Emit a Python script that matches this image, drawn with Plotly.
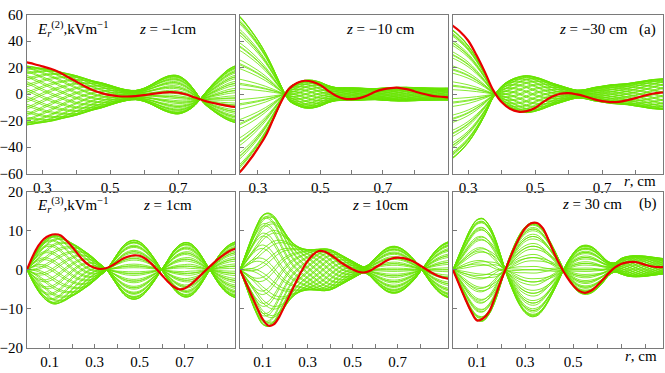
import numpy as np
import plotly.graph_objects as go
from plotly.subplots import make_subplots

# radial grids (cm)
R_TOP = [0.225, 0.25, 0.275, 0.3, 0.325, 0.35, 0.375, 0.4, 0.425, 0.45, 0.475, 0.5, 0.525, 0.55,
         0.575, 0.6, 0.625, 0.65, 0.675, 0.7, 0.725, 0.75, 0.775, 0.8, 0.825, 0.85, 0.875, 0.9, 0.925]
R_BOT = [0.0, 0.025, 0.05, 0.075, 0.1, 0.125, 0.15, 0.175, 0.2, 0.225, 0.25, 0.275, 0.3, 0.325,
         0.35, 0.375, 0.4, 0.425, 0.45, 0.475, 0.5, 0.525, 0.55, 0.575, 0.6, 0.625, 0.65, 0.675,
         0.7, 0.725, 0.75, 0.775, 0.8, 0.825, 0.85, 0.875, 0.9, 0.925]

# phase offsets of the green snapshots (deg), two per band
THETA = [0, 4, 15, 19, 30, 34, 45, 49, 60, 64, 75, 79, 90, 94, 105, 109, 120, 124, 135, 139,
         150, 154, 165, 169, 180, 184, 195, 199, 210, 214, 225, 229, 240, 244, 255, 259, 270, 274,
         285, 289, 300, 304, 315, 319, 330, 334, 345, 349]

# z = -1 cm
RED1 = [26.0, 24.3, 22.8, 21.0, 19.2, 16.5, 13.0, 9.5, 6.0, 3.0, 0.8, -0.8, -1.6, -1.8, -1.5,
        -0.8, 0.2, 1.0, 1.5, 1.2, -0.3, -2.6, -4.8, -6.5, -7.8, -9.0, -9.8, -10.3, -10.5]
AMP1 = [23, 22.5, 21.5, 20.5, 19.5, 18, 16.5, 15, 13, 11, 9.5, 7.5, 5.5, 4, 3.5,
        5, 8, 11.5, 14, 14.5, 11.5, 5.5, -3, -9.5, -15, -19.5, -22, -23, -23]
MID1 = [-1, -1, -1, -1, -1, -1, -1, -1, -1, -1, -0.9, -0.8, -0.8, -0.8, -0.7,
        -0.5, -0.2, 0, 0, -0.5, -1.5, -3, -3.6, -2.5, -1.5, -0.5, 0, 0, 0]
PH1 = [0, -5, -12, -20, -28, -36, -45, -54, -63, -72, -81, -90, -98, -105, -110,
       -113, -115, -116, -117, -117, -117, -117, -117, -117, -117, -117, -117, -117, -117]

# z = -10 cm
RED2 = [-63, -57, -49.5, -41, -31.5, -18.5, -5.5, 4, 8.5, 10.1, 9.3, 6.8, 2.5, -1.3, -3.4,
        -3.8, -3.0, -1.0, 1.8, 3.6, 4.6, 4.8, 3.8, 2.2, 0.5, -0.9, -1.8, -2.3, -2.5]
AMP2 = [63, 57, 49.5, 41, 31, 19, 6, -5, -8.5, -10.5, -10.5, -9, -6.5, -5, -4.8,
        -4.8, -4.6, -4.3, -4.2, -4.6, -5, -5.2, -5.2, -5, -4.8, -4.6, -4.5, -4.5, -4.5]
PH2 = [4, 4, 4, 4, 4, 4, 4, 2, -6, -16, -26, -36, -46, -56, -66,
       -76, -86, -96, -106, -116, -126, -136, -146, -156, -166, -176, -186, -196, -206]

# z = -30 cm
RED3 = [57, 52.5, 47.5, 40.5, 29.5, 16.8, 3, -6, -11, -13.2, -12.8, -10.5, -5.8, -2, 0.3,
        0.8, -0.2, -1.8, -3.8, -5.3, -6, -5.8, -4.6, -3, -1.2, 0.3, 1.1, 1.5, 1.6]
AMP3 = [54, 49.5, 44, 37, 27.5, 16, 2.5, -6, -10.5, -13, -14, -13, -11, -8.5, -6.5,
        -4.5, -3, -3.5, -5, -6, -7, -7.5, -8, -9, -10, -11, -11.5, -12, -12]
PH3 = [4, 4, 4, 4, 4, 4, 4, 2, -6, -15, -25, -35, -45, -55, -65,
       -75, -84, -93, -102, -111, -120, -129, -138, -147, -156, -165, -174, -183, -192]

# z = 1 cm
RED4 = [0, 3.4, 6.1, 7.9, 8.8, 9.1, 8.8, 7.5, 5.9, 4.1, 2.4, 1.2, 0.5, 0.2, 0.4, 1.0, 1.9, 2.8, 3.4,
        3.7, 3.6, 2.9, 1.7, 0.2, -1.4, -3.0, -4.3, -5.0, -4.8, -3.9, -2.6, -1.2, 0.2, 1.5, 2.8, 3.9, 4.8, 5.4]
AMP4 = [0, 3, 5.5, 7.3, 8.4, 8.8, 8.4, 7.7, 6.8, 6.0, 5.0, 4.0, 2.8, 1.5, 0.3, -1.8, -4, -6, -7.2,
        -7.6, -7.2, -6, -4.2, -2.1, 0.2, 2.5, 4.8, 6.3, 7.0, 6.8, 5.6, 3.6, 1.2, -1.2, -3.5, -5.3, -6.5, -7.2]
PH4 = [0, -2, -5, -9, -14, -20, -27, -35, -44, -54, -64, -74, -83, -90, -95, -98, -100, -101, -101,
       -101, -101, -101, -101, -101, -101, -101, -101, -101, -101, -102, -102, -102, -102, -102, -102,
       -102, -102, -102]

# z = 10 cm
RED5 = [0, -3.2, -6.4, -9.6, -12.6, -14.3, -14.0, -12.0, -9.0, -6.0, -3.0, -0.2, 2.2, 3.9, 4.8, 4.7,
        3.9, 2.9, 1.8, 0.9, 0.1, -0.5, -0.7, -0.3, 0.5, 1.4, 2.3, 2.9, 3.1, 3.0, 2.6, 2.0, 1.1, 0.2,
        -0.7, -1.5, -2.0, -2.3]
AMP5 = [0, 4, 8, 11.5, 14, 14.6, 13.8, 11.8, 9.5, 7.5, 6.2, 5.5, 5.2, 5.2, 5.3, 5.4, 5.2, 4.6, 3.8,
        3.0, 2.2, 1.4, 0.8, 1.5, 3.0, 4.4, 5.5, 6.0, 5.9, 5.2, 4.0, 2.5, 0.6, -1.5, -3.6, -5.3, -6.5, -7.2]
PH5 = [0, -1, -2, -4, -7, -11, -17, -25, -35, -47, -60, -73, -86, -99, -112, -125, -138, -151, -164,
       -175, -184, -190, -194, -197, -199, -199, -199, -199, -199, -199, -199, -199, -199, -199, -199,
       -199, -199, -199]

# z = 30 cm
RED6 = [0, -3.7, -7.3, -10.6, -13.0, -12.5, -10.8, -7.0, -2.8, 1.0, 4.8, 8.0, 10.6, 11.9, 12.0, 10.6,
        7.3, 3.8, 0.7, -1.9, -4.0, -5.4, -5.9, -5.4, -4.1, -2.5, -0.8, 0.6, 1.5, 1.9, 2.0, 1.8, 1.3,
        0.9, 0.7, 0.7, 0.7, 0.7]
AMP6 = [0, 3.8, 7.5, 10.8, 12.9, 13.2, 11.5, 8.2, 3.5, -1.5, -5.5, -8.8, -11, -12, -11.8, -10.3, -7.8,
        -4.8, -1.5, 1.8, 4.2, 5.8, 6.3, 6.0, 4.9, 3.3, 1.7, 1.2, 2.0, 2.5, 2.7, 2.7, 2.6, 2.4, 2.2,
        2.0, 1.9, 1.8]
MID6 = [0, 0, 0, 0, 0, 0, 0, 0, 0, 0, 0, 0, 0, 0, 0, 0, 0, 0, 0, 0, 0, 0, 0, 0, 0, 0,
        0.3, 0.6, 0.9, 0.9, 0.9, 0.9, 0.9, 0.9, 0.9, 0.9, 0.9, 0.9]
PH6 = [3, 3, 3.5, 4, 4.5, 5, 6, 9, 14, 19, 24, 25, 26, 26, 26, 27, 28, 31, 35, 38, 40, 41, 41, 41,
       42, 43, 48, 58, 72, 88, 104, 120, 136, 152, 168, 184, 200, 216]

GREEN = "rgb(104,228,0)"
RED = "rgb(232,0,0)"
FONT = "Liberation Serif"

panels = [
    (1, 1, R_TOP, RED1, AMP1, PH1, MID1),
    (1, 2, R_TOP, RED2, AMP2, PH2, None),
    (1, 3, R_TOP, RED3, AMP3, PH3, None),
    (2, 1, R_BOT, RED4, AMP4, PH4, None),
    (2, 2, R_BOT, RED5, AMP5, PH5, None),
    (2, 3, R_BOT, RED6, AMP6, PH6, MID6),
]

fig = make_subplots(rows=2, cols=3)

for row, col, r, red, amp, ph, mid in panels:
    amp, ph = np.array(amp), np.radians(ph)
    mid = np.zeros(len(r)) if mid is None else np.array(mid)
    for th in THETA:
        fig.add_trace(go.Scatter(x=r, y=mid + amp * np.cos(np.radians(th) + ph), mode="lines",
                                 line=dict(color=GREEN, width=0.8, shape="spline"),
                                 hoverinfo="skip", showlegend=False), row=row, col=col)
    fig.add_trace(go.Scatter(x=r, y=red, mode="lines", line=dict(color=RED, width=2.2, shape="spline"),
                             showlegend=False), row=row, col=col)

x_dom = [[27 / 665, 235 / 665], [240 / 665, 448 / 665], [453 / 665, 663 / 665]]
y_dom = [[1 - 173 / 373, 1 - 7 / 373], [1 - 355 / 373, 1 - 192 / 373]]
x_rng = [[0.255, 0.868], [0.243, 0.908], [0.255, 0.882], [0, 0.924], [0, 0.924], [0, 0.875]]
top_ticks = [0.3, 0.4, 0.5, 0.6, 0.7, 0.8]
bot_ticks = [0.1, 0.2, 0.3, 0.4, 0.5, 0.6, 0.7, 0.8]

axis_style = dict(showline=True, linecolor="#7a7a7a", linewidth=1, mirror=True, ticks="inside",
                  ticklen=4, tickcolor="#7a7a7a", showgrid=False, zeroline=False,
                  tickfont=dict(family=FONT, size=15, color="black"))

for i in range(6):
    row, col = divmod(i, 3)
    n = i + 1
    if row == 0:
        tv, tt = top_ticks, ["0.3", "", "0.5", "", "0.7", ""]
        yv = [-60, -40, -20, 0, 20, 40, 60]
        yt = ["\u221260", "\u221240", "\u221220", "0", "20", "40", "60"]
        yr = [-60, 60]
    else:
        tv = bot_ticks
        tt = ["0.1", "", "0.3", "", "0.5", "", "" if col == 2 else "0.7", ""]
        yv = [-20, -10, 0, 10, 20]
        yt = ["\u221220", "\u221210", "0", "10", "20"]
        yr = [-20, 20]
    fig.layout[f"xaxis{n}"].update(domain=x_dom[col], range=x_rng[i], tickvals=tv, ticktext=tt, **axis_style)
    fig.layout[f"yaxis{n}"].update(domain=y_dom[row], range=yr, tickvals=yv, ticktext=yt,
                                   showticklabels=(col == 0), **axis_style)

labels = [
    (35, 22, "<i>E</i><sub><i>r</i></sub><sup>(2)</sup>,kVm<sup>\u22121</sup>", "left"),
    (167, 22, "<i>z</i> = \u22121cm", "center"),
    (380, 22, "<i>z</i> = \u221210 cm", "center"),
    (593, 22, "<i>z</i> = \u221230 cm", "center"),
    (647, 22, "(a)", "center"),
    (35, 206, "<i>E</i><sub><i>r</i></sub><sup>(3)</sup>,kVm<sup>\u22121</sup>", "left"),
    (167, 206, "<i>z</i> = 1cm", "center"),
    (380, 206, "<i>z</i> = 10cm", "center"),
    (592, 205, "<i>z</i> = 30 cm", "center"),
    (648, 204, "(b)", "center"),
    (640, 181, "<i>r</i>, cm", "center"),
    (641, 364, "<i>r</i>, cm", "center"),
]
for px, py, text, anchor in labels:
    fig.add_annotation(x=px / 665, y=1 - py / 373, xref="paper", yref="paper", text=text,
                       showarrow=False, xanchor=anchor, yanchor="middle",
                       font=dict(family=FONT, size=15, color="black"))

fig.update_layout(width=665, height=373, margin=dict(l=0, r=0, t=0, b=0),
                  plot_bgcolor="white", paper_bgcolor="white",
                  font=dict(family=FONT, size=15, color="black"))

# drop the browser's default body margin so the 665x373 figure fills the window
fig.write_html("out.html", config={"displayModeBar": False},
               post_script="document.body.style.margin = '0';")
